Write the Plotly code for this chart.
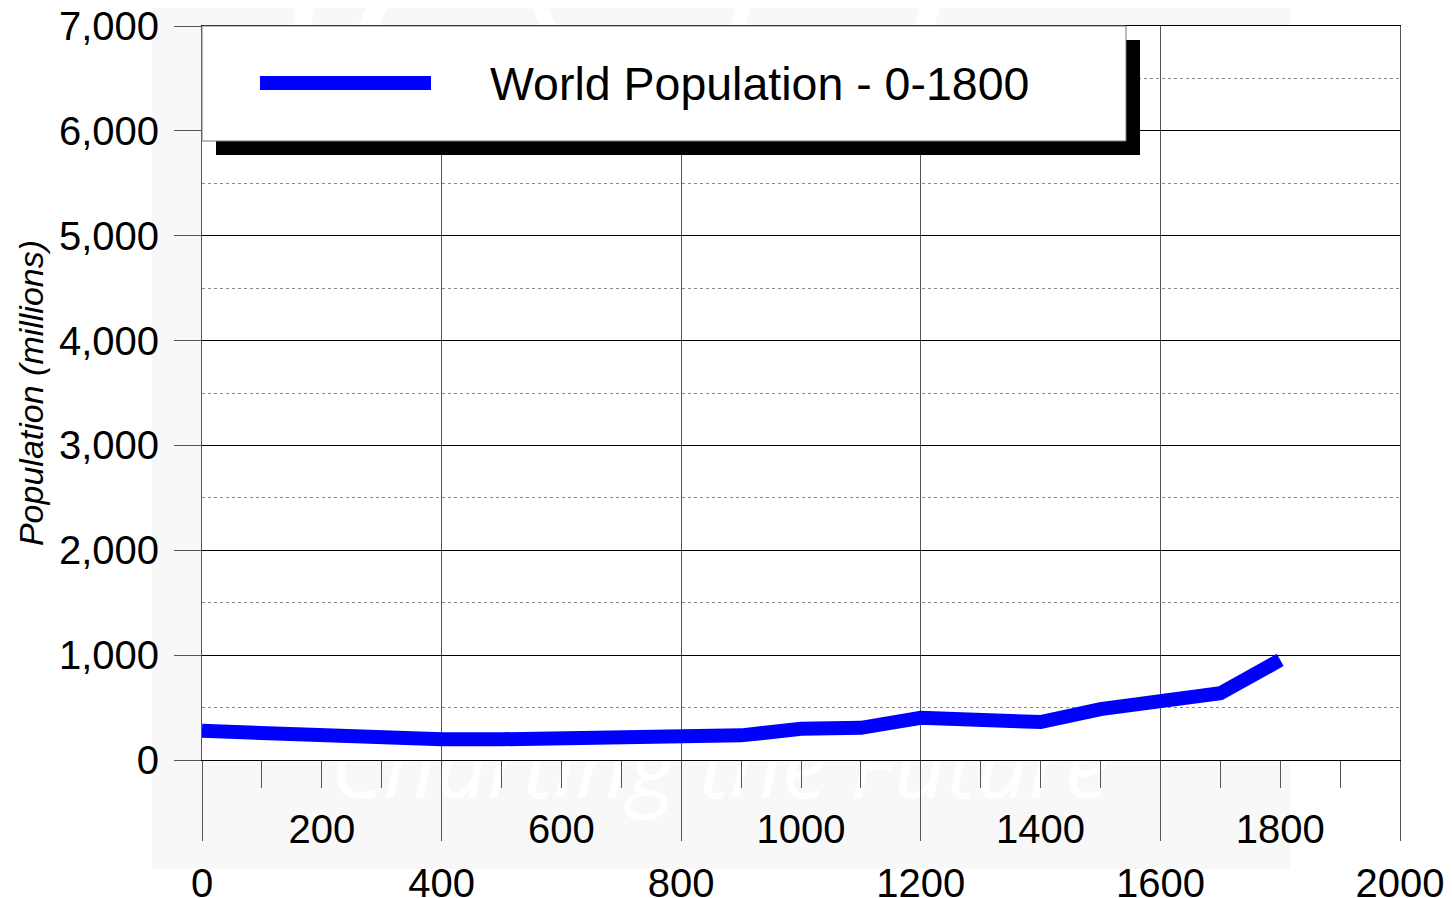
import base64
import plotly.graph_objects as go

# ---- data ----
series_name = "World Population - 0-1800"
years = [0, 300, 400, 500, 600, 700, 800, 900, 1000, 1100, 1200, 1300, 1400, 1500, 1600, 1700, 1800]
population = [278, 200, 197, 198, 205, 213, 222, 235, 297, 307, 402, 386, 362, 486, 563, 636, 954]
x_major_ticks = [0, 400, 800, 1200, 1600, 2000]
x_upper_ticks = [200, 600, 1000, 1400, 1800]
y_ticks = [0, 1000, 2000, 3000, 4000, 5000, 6000, 7000]
watermark = "Charting the Future"

# the page places the figure 8px in from the window's top-left corner
OFF = 8
W, H = 1452 - OFF, 898 - OFF
L, T = 202 - OFF, 26 - OFF
PW, PH = 1198, 734
R, B = W - L - PW, H - T - PH
FONT = "Liberation Sans, Arial, sans-serif"

# helpers: window pixel -> paper fraction
def px(xp):
    return (xp - OFF - L) / PW

def py(yp):
    return (T + PH - (yp - OFF)) / PH

# background decoration (in figure pixel space): grey panel, white watermark, white plot area
def f(v):
    return v - OFF

svg = f'''<svg xmlns="http://www.w3.org/2000/svg" width="{W}" height="{H}" viewBox="0 0 {W} {H}">
<rect x="0" y="0" width="{W}" height="{H}" fill="#ffffff"/>
<rect x="{f(152)}" y="0" width="1138" height="{f(869)}" fill="#f8f8f8"/>
<polygon points="{f(296)},0 {f(314)},0 {f(311)},{f(26)} {f(293)},{f(26)}" fill="#ffffff"/>
<polygon points="{f(366)},0 {f(388)},0 {f(378)},{f(26)} {f(358)},{f(26)}" fill="#ffffff"/>
<polygon points="{f(532)},0 {f(548)},0 {f(556)},{f(26)} {f(540)},{f(26)}" fill="#ffffff"/>
<polygon points="{f(735)},0 {f(750)},0 {f(746)},{f(26)} {f(731)},{f(26)}" fill="#ffffff"/>
<polygon points="{f(920)},0 {f(940)},0 {f(934)},{f(26)} {f(915)},{f(26)}" fill="#ffffff"/>
<text x="{f(720)}" y="{f(798)}" font-family="Open Sans, DejaVu Sans, sans-serif" font-style="italic"
 font-size="92" fill="#ffffff" text-anchor="middle" textLength="780" lengthAdjust="spacingAndGlyphs">{watermark}</text>
<rect x="{L}" y="{T}" width="{PW}" height="{PH}" fill="#ffffff"/>
</svg>'''
svg_uri = "data:image/svg+xml;base64," + base64.b64encode(svg.encode("utf-8")).decode("ascii")

fig = go.Figure()
fig.add_trace(go.Scatter(
    x=years, y=population, mode="lines", name=series_name,
    line=dict(color="#0000ff", width=14), showlegend=False,
))
fig.add_trace(go.Scatter(x=[None], y=[None], xaxis="x2", showlegend=False, hoverinfo="skip"))

fig.update_layout(
    width=W, height=H,
    margin=dict(l=L, r=R, t=T, b=B, autoexpand=False),
    paper_bgcolor="#ffffff",
    plot_bgcolor="rgba(0,0,0,0)",
    font=dict(family=FONT, color="#000000", size=40),
    showlegend=False,
    xaxis=dict(
        range=[0, 2000], tickmode="array", tickvals=x_major_ticks,
        ticktext=[str(v) for v in x_major_ticks],
        ticks="outside", ticklen=80, tickcolor="#555555", tickwidth=1,
        ticklabelstandoff=8, ticklabeloverflow="allow",
        showgrid=True, gridcolor="#555555", gridwidth=1,
        minor=dict(tick0=0, dtick=100, ticks="outside", ticklen=27,
                   tickcolor="#555555", tickwidth=1, showgrid=False),
        showline=True, linecolor="#000000", linewidth=1, mirror=True,
        zeroline=False, tickfont=dict(size=40, family=FONT),
    ),
    xaxis2=dict(
        range=[0, 2000], overlaying="x", anchor="y", side="bottom",
        tickmode="array", tickvals=x_upper_ticks,
        ticktext=[str(v) for v in x_upper_ticks],
        ticks="", ticklabelstandoff=42, ticklabeloverflow="allow",
        showgrid=False, showline=False,
        zeroline=False, tickfont=dict(size=40, family=FONT),
    ),
    yaxis=dict(
        range=[0, 7000], tickmode="array", tickvals=y_ticks, tickformat=",",
        ticks="outside", ticklen=27, tickcolor="#555555", tickwidth=1,
        ticklabelstandoff=7, ticklabeloverflow="allow",
        showgrid=True, gridcolor="#000000", gridwidth=1,
        minor=dict(dtick=500, showgrid=True, gridcolor="#8a8a8a",
                   griddash="dot", gridwidth=1, ticks=""),
        showline=True, linecolor="#555555", linewidth=1, mirror=True,
        zeroline=False, tickfont=dict(size=40, family=FONT),
        title=dict(text="<i>Population (millions)</i>", standoff=4,
                   font=dict(size=34, family=FONT)),
    ),
    images=[dict(
        source=svg_uri, xref="paper", yref="paper",
        x=-L / PW, y=(T + PH) / PH, sizex=W / PW, sizey=H / PH,
        xanchor="left", yanchor="top", sizing="stretch", layer="below",
    )],
    shapes=[
        # legend shadow
        dict(type="rect", xref="paper", yref="paper",
             x0=px(216), x1=px(1140), y0=py(155), y1=py(40),
             fillcolor="#000000", line=dict(width=0), layer="above"),
        # legend box
        dict(type="rect", xref="paper", yref="paper",
             x0=px(202), x1=px(1126), y0=py(141), y1=py(26),
             fillcolor="#ffffff", line=dict(color="#777777", width=1), layer="above"),
        # legend line sample
        dict(type="line", xref="paper", yref="paper",
             x0=px(260), x1=px(431), y0=py(83), y1=py(83),
             line=dict(color="#0000ff", width=14), layer="above"),
    ],
    annotations=[dict(
        text=series_name, xref="paper", yref="paper",
        x=px(488), y=py(84), xanchor="left", yanchor="middle",
        showarrow=False, font=dict(size=46.5, family=FONT, color="#000000"),
    )],
)

fig.write_html("out.html")
